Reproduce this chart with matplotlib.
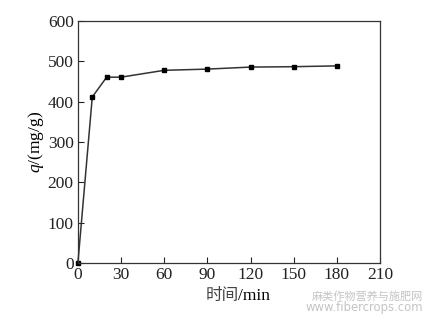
import matplotlib
matplotlib.use("Agg")
import matplotlib.pyplot as plt

time_min = [0, 10, 20, 30, 60, 90, 120, 150, 180]
q_values = [0, 412, 461, 461, 478, 481, 486, 487, 489]
x_ticks = [0, 30, 60, 90, 120, 150, 180, 210]
y_ticks = [0, 100, 200, 300, 400, 500, 600]

plt.rcParams['font.family'] = ['Liberation Serif', 'Noto Sans CJK SC']
plt.rcParams['mathtext.fontset'] = 'custom'
plt.rcParams['mathtext.it'] = 'Liberation Serif:italic'
plt.rcParams['mathtext.rm'] = 'Liberation Serif'

FS = 12.5
fig = plt.figure(figsize=(4.28, 3.2), dpi=100)
ax = fig.add_axes([0.182, 0.178, 0.706, 0.756])
ax.plot(time_min, q_values, color='#333333', lw=1.1, marker='s', ms=3,
        mfc='black', mec='black', clip_on=False)
ax.set_xlim(0, 210)
ax.set_ylim(0, 600)
ax.set_xticks(x_ticks)
ax.set_yticks(y_ticks)
ax.tick_params(direction='in', length=4, labelsize=FS, width=0.8, pad=3,
               colors='#222222')
for s in ax.spines.values():
    s.set_linewidth(0.9)
    s.set_color('#333333')

ax.set_ylabel(r'$q$/(mg/g)', fontsize=FS, labelpad=1)
# x label: CJK + roman "/min"
fig.text(0.557, 0.062, '时间', fontsize=FS - 0.5, style='italic',
         family=['Noto Sans CJK SC'], ha='right', va='baseline', color='#444444')
fig.text(0.557, 0.062, '/min', fontsize=FS, ha='left', va='baseline')

fig.text(0.988, 0.064, '麻类作物营养与施肥网', fontsize=8.0, color='#c4c4c4',
         family=['Noto Sans CJK SC'], ha='right', va='baseline')
fig.text(0.988, 0.028, 'www.fibercrops.com', fontsize=8.4, color='#c4c4c4',
         family=['DejaVu Sans'], ha='right', va='baseline')

fig.savefig('out.png', dpi=100)
